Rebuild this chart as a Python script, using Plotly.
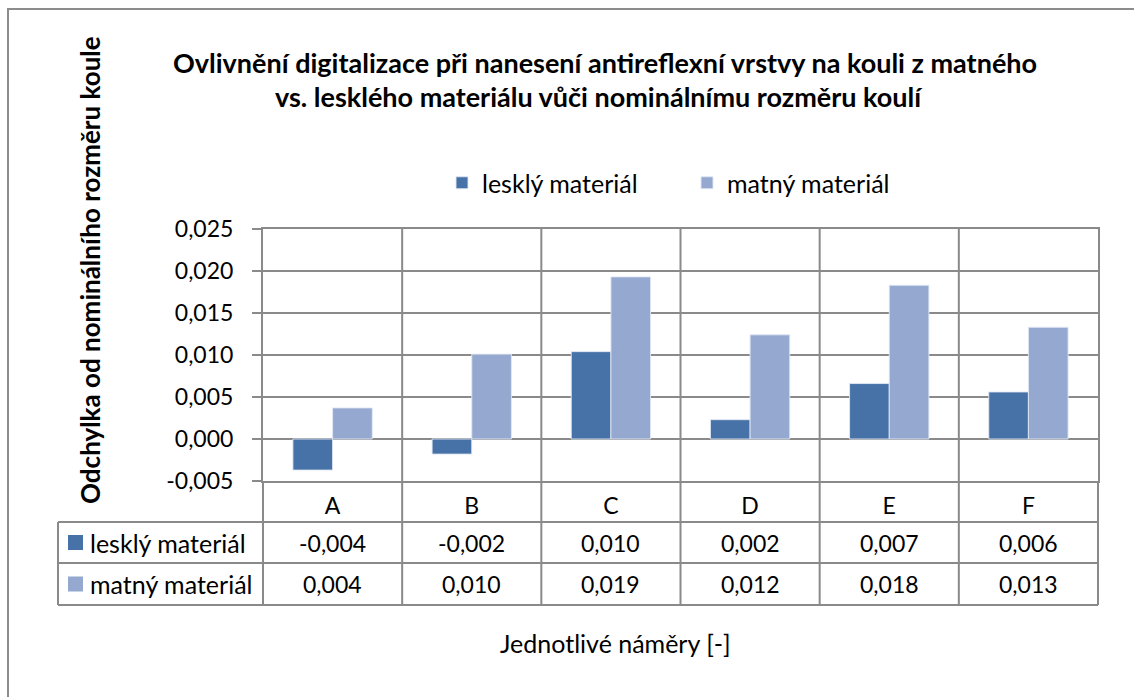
import plotly.graph_objects as go

# --- data -------------------------------------------------------------
categories = ["A", "B", "C", "D", "E", "F"]
series_names = ["lesklý materiál", "matný materiál"]
leskly = [-0.0037, -0.0018, 0.0104, 0.0023, 0.0066, 0.0056]
matny = [0.0037, 0.0101, 0.0193, 0.0124, 0.0183, 0.0133]
tick_values = [-0.005, 0.0, 0.005, 0.010, 0.015, 0.020, 0.025]
tick_labels = ["-0,005", "0,000", "0,005", "0,010", "0,015", "0,020", "0,025"]

title_lines = [
    "Ovlivnění digitalizace při nanesení antireflexní vrstvy na kouli z matného",
    "vs. lesklého materiálu vůči nominálnímu rozměru koulí",
]
y_title = "Odchylka od nominálního rozměru koule"
x_title = "Jednotlivé náměry [-]"

colors = ["#4672A7", "#95A9D0"]
grid = "#8A8A8A"
FONT = "Lato"
TEXT_SIZE = 25     # words: legend, table row names, axis title
NUM_SIZE = 23      # numbers and category letters

# --- page geometry (pixels) -------------------------------------------
W, H = 1134, 697
PL, PR, PT, PB = 263, 1098, 229, 481          # plot area
TABLE_LEFT = 58
ROWS = [(481, 522), (522, 563), (563, 605)]   # header row + two series rows


def px(x):
    return (x - PL) / (PR - PL)


def py(y):
    return (PB - y) / (PB - PT)


def fmt(v):
    return f"{v:.3f}".replace(".", ",")


fig = go.Figure()
for name, vals, col in zip(series_names, [leskly, matny], colors):
    fig.add_trace(go.Bar(
        x=categories, y=vals, name=name,
        marker=dict(color=col, line=dict(color="rgba(225,232,244,0.9)", width=1)),
    ))

shapes = []
# outer chart frame (continues past the page edge)
shapes.append(dict(type="rect", xref="paper", yref="paper",
                   x0=px(8), x1=px(1160), y0=py(9), y1=py(720),
                   line=dict(color="#8C8C8C", width=2), layer="below"))
# category dividers running through plot and data table
for i in range(1, len(categories)):
    shapes.append(dict(type="line", xref="x", yref="paper",
                       x0=i - 0.5, x1=i - 0.5, y0=1, y1=py(ROWS[-1][1]),
                       line=dict(color=grid, width=2), layer="above"))
for xe in (PL, PR):
    shapes.append(dict(type="line", xref="paper", yref="paper",
                       x0=px(xe), x1=px(xe), y0=0, y1=py(ROWS[-1][1]),
                       line=dict(color=grid, width=2)))
# table horizontal rules
for _, yb in ROWS:
    shapes.append(dict(type="line", xref="paper", yref="paper",
                       x0=px(TABLE_LEFT), x1=px(PR),
                       y0=py(yb), y1=py(yb), line=dict(color=grid, width=2)))
shapes.append(dict(type="line", xref="paper", yref="paper",
                   x0=px(TABLE_LEFT), x1=px(TABLE_LEFT),
                   y0=py(ROWS[0][1]), y1=py(ROWS[-1][1]),
                   line=dict(color=grid, width=2)))

annotations = []
# table: legend keys, series names and values
for (top, bot), name, vals, col in zip(ROWS[1:], series_names, [leskly, matny], colors):
    mid = (top + bot) / 2
    shapes.append(dict(type="rect", xref="paper", yref="paper",
                       x0=px(68), x1=px(83), y0=py(mid - 7.5), y1=py(mid + 7.5),
                       fillcolor=col, line=dict(width=0)))
    annotations.append(dict(xref="paper", yref="paper", x=px(88), y=py(mid),
                            xanchor="left", yanchor="middle", showarrow=False,
                            text=name, font=dict(size=TEXT_SIZE)))
    for c, v in zip(categories, vals):
        annotations.append(dict(xref="x", yref="paper", x=c, y=py(mid),
                                xanchor="center", yanchor="middle", showarrow=False,
                                text=fmt(v), font=dict(size=NUM_SIZE)))

# titles
annotations.append(dict(xref="paper", yref="paper", x=px(605), y=py(63),
                        xanchor="center", yanchor="middle", showarrow=False,
                        text=f"<b>{title_lines[0]}</b>", font=dict(size=27)))
annotations.append(dict(xref="paper", yref="paper", x=px(599), y=py(96),
                        xanchor="center", yanchor="middle", showarrow=False,
                        text=f"<b>{title_lines[1]}</b>", font=dict(size=27)))
annotations.append(dict(xref="paper", yref="paper", x=px(90), y=py(270),
                        xanchor="center", yanchor="middle", showarrow=False,
                        textangle=-90, text=f"<b>{y_title}</b>", font=dict(size=26)))
annotations.append(dict(xref="paper", yref="paper", x=px(615), y=py(643),
                        xanchor="center", yanchor="middle", showarrow=False,
                        text=x_title, font=dict(size=TEXT_SIZE)))

fig.update_layout(
    width=W, height=H,
    margin=dict(l=PL, r=W - PR, t=PT, b=H - PB, pad=0),
    paper_bgcolor="white", plot_bgcolor="white",
    font=dict(family=FONT, size=TEXT_SIZE, color="black"),
    barmode="group", bargap=0.43, bargroupgap=0,
    showlegend=True,
    legend=dict(orientation="h", x=px(442), xanchor="left",
                y=py(183), yanchor="middle",
                font=dict(size=TEXT_SIZE), entrywidth=200, entrywidthmode="pixels",
                bgcolor="rgba(0,0,0,0)", traceorder="normal"),
    xaxis=dict(type="category", range=[-0.5, len(categories) - 0.5],
               showgrid=False, zeroline=False, ticks="",
               showline=True, mirror=True, linecolor=grid, linewidth=2,
               tickfont=dict(size=NUM_SIZE), ticklabelstandoff=3),
    yaxis=dict(range=[tick_values[0], tick_values[-1]],
               tickmode="array", tickvals=tick_values, ticktext=tick_labels,
               showgrid=True, gridcolor=grid, gridwidth=2, zeroline=False,
               showline=True, mirror=True, linecolor=grid, linewidth=2,
               ticks="outside", ticklen=9, tickwidth=2, tickcolor=grid,
               tickfont=dict(size=NUM_SIZE), ticklabelstandoff=14),
    shapes=shapes, annotations=annotations,
)

fig.write_html("out.html")
